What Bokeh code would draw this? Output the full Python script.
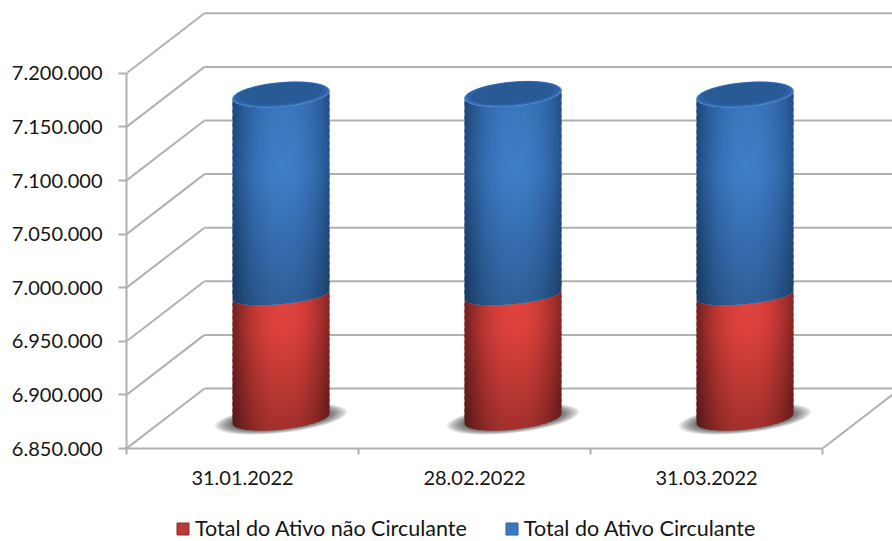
import math
from bokeh.embed import file_html
from bokeh.resources import INLINE
from bokeh.plotting import figure
from bokeh.layouts import column
from bokeh.models import FixedTicker, Legend, LegendItem, Range1d

categories = ["31.01.2022", "28.02.2022", "31.03.2022"]
series_names = ["Total do Ativo não Circulante", "Total do Ativo Circulante"]
ativo_nao_circulante = [6965000, 6965000, 6965000]
ativo_circulante = [187000, 187500, 187000]
y_ticks = [6850000, 6900000, 6950000, 7000000, 7050000, 7100000, 7150000, 7200000]
y_tick_labels = ["6.850.000", "6.900.000", "6.950.000", "7.000.000",
                 "7.050.000", "7.100.000", "7.150.000", "7.200.000"]

W, H1, H2 = 892, 490, 51
LEFT, BOTTOM_PAGE, TOP_PAGE, RIGHT_PAGE = 126.0, 448.0, 0.0, 892.0
XPX = 1 / 232.0
YPX = 50000 / 53.6
DX, DY = 78 * XPX, 60 * YPX

p = figure(width=W, height=H1, output_backend="svg", toolbar_location=None,
           x_range=Range1d(0, (RIGHT_PAGE - LEFT) * XPX),
           y_range=Range1d(y_ticks[0], y_ticks[0] + (BOTTOM_PAGE - TOP_PAGE) * YPX),
           min_border_left=int(LEFT), min_border_right=0, min_border_top=0,
           min_border_bottom=int(H1 - BOTTOM_PAGE), outline_line_color=None,
           background_fill_color="white", border_fill_color="white")
p.grid.visible = False

GRID = "#b0b0b0"
FONT = "Lato"
TXT = "#141414"

# y axis
ya = p.yaxis[0]
ya.ticker = FixedTicker(ticks=y_ticks)
ya.major_label_overrides = {t: l for t, l in zip(y_ticks, y_tick_labels)}
ya.bounds = (y_ticks[0], y_ticks[-1])
ya.axis_line_color = GRID
ya.axis_line_width = 2
ya.major_tick_line_color = GRID
ya.major_tick_line_width = 2
ya.major_tick_out = 8
ya.major_tick_in = 0
ya.minor_tick_line_color = None
ya.major_label_text_font = FONT
ya.major_label_text_font_size = "20px"
ya.major_label_text_color = TXT
ya.major_label_standoff = 16

# x axis
xa = p.xaxis[0]
centers = [i + 0.5 for i in range(len(categories))]
xa.ticker = FixedTicker(ticks=centers, minor_ticks=list(range(len(categories) + 1)))
xa.major_label_overrides = {c: l for c, l in zip(centers, categories)}
xa.bounds = (0, len(categories))
xa.axis_line_color = GRID
xa.axis_line_width = 2
xa.major_tick_line_color = None
xa.major_tick_out = 0
xa.major_tick_in = 0
xa.minor_tick_line_color = GRID
xa.minor_tick_line_width = 2
xa.minor_tick_out = 6
xa.minor_tick_in = 0
xa.major_label_text_font = FONT
xa.major_label_text_font_size = "20px"
xa.major_label_text_color = TXT
xa.major_label_standoff = 16

# walls: diagonals and back lines
n = len(categories)
p.segment([0] * len(y_ticks), y_ticks, [DX] * len(y_ticks), [t + DY for t in y_ticks],
          line_color=GRID, line_width=2)
p.segment([DX] * len(y_ticks), [t + DY for t in y_ticks], [n + DX] * len(y_ticks),
          [t + DY for t in y_ticks], line_color=GRID, line_width=2)
p.segment([n], [y_ticks[0]], [n + DX], [y_ticks[0] + DY], line_color=GRID, line_width=2)


def lerp(a, b, t):
    return a + (b - a) * t


def rgb(c):
    return "#%02x%02x%02x" % tuple(max(0, min(255, int(round(v)))) for v in c)


def shade(edge, mid, u, factor):
    t = max(0.0, 1 - abs(u - 0.05) ** 2.2)
    return rgb([lerp(edge[k], mid[k], t) * factor for k in range(3)])


def edge_val(v, u, b, s):
    return v + (-b * math.sqrt(max(0, 1 - u * u)) + s * u) * YPX


RED = ((122, 34, 34), (222, 66, 60))
BLUE = ((34, 78, 132), (62, 125, 200))
A = 48.5
NS = 44


def section(xc, v0, v1, b0, s0, b1, s1, pal, prof, nv, out):
    for i in range(NS):
        u0 = -1 + 2 * i / NS
        um = u0 + 1.0 / NS
        u1 = min(1.0, u0 + 3.0 / NS)
        us = [u0 + (u1 - u0) * q / 6 for q in range(7)]
        for j in range(nv):
            t0 = j / nv
            t1 = min(1.0, (j + 1.5) / nv)
            def yy(u, t):
                return lerp(edge_val(v0, u, b0, s0), edge_val(v1, u, b1, s1), t)
            out["x"].append([xc + u * A * XPX for u in us] + [xc + u * A * XPX for u in reversed(us)])
            out["y"].append([yy(u, t0) for u in us] + [yy(u, t1) for u in reversed(us)])
            out["c"].append(shade(pal[0], pal[1], um, prof((2 * j + 1) / (2 * nv))))


def red_prof(t):
    return lerp(0.74, 1.0, min(1, t / 0.8))


def blue_prof(t):
    return lerp(0.76, 1.0, min(1, t / 0.65)) if t < 0.7 else lerp(1.0, 0.95, (t - 0.7) / 0.3)


def ellipse(xc, v, a, b, s, dv=0.0, nn=48):
    xs, ys = [], []
    for k in range(nn):
        th = 2 * math.pi * k / nn
        u = math.cos(th)
        xs.append(xc + a * u * XPX)
        ys.append(v + dv * YPX + (b * math.sin(th) + s * u) * YPX)
    return xs, ys


patches = {"x": [], "y": [], "c": []}
shadow = {"x": [], "y": []}
caps = {"x": [], "y": [], "c": []}
for i in range(n):
    xc = i + 0.5 + DX / 2 - 0.5 * XPX
    base = y_ticks[0] + DY / 2
    mid = ativo_nao_circulante[i] + DY / 2
    top = mid + ativo_circulante[i]
    for k in range(8):
        f = 1.0 - 0.04 * k
        xs, ys = ellipse(xc, base, 66 * f, 14 * f, 7 * f, dv=-0.5)
        shadow["x"].append(xs)
        shadow["y"].append(ys)
    section(xc, base, mid, 11, 5, 9, 4.5, RED, red_prof, 20, patches)
    section(xc, mid, top, 9, 4.5, 12, 4, BLUE, blue_prof, 30, patches)
    for f, col, dv in ((1.0, (60, 122, 196), 0), (0.96, (46, 100, 166), 0.8), (0.86, (40, 90, 150), 1.0)):
        xs, ys = ellipse(xc, top, A * f, 12 * f, 4 * f, dv=dv)
        caps["x"].append(xs)
        caps["y"].append(ys)
        caps["c"].append(rgb(col))

p.patches(shadow["x"], shadow["y"], fill_color="#000000", fill_alpha=0.1, line_color=None)
p.patches(patches["x"], patches["y"], fill_color=patches["c"], line_color=None)
p.patches(caps["x"], caps["y"], fill_color=caps["c"], line_color=caps["c"], line_width=0.5)

# legend strip below the plot
p2 = figure(width=W, height=H2, output_backend="svg", toolbar_location=None,
            x_range=Range1d(0, 1), y_range=Range1d(0, 1),
            x_axis_location=None, y_axis_location=None,
            min_border=0, outline_line_color=None,
            background_fill_color="white", border_fill_color="white")
p2.grid.visible = False
r1 = p2.quad(left=[-5], right=[-4], bottom=[0], top=[1], fill_color="#bb3a38", line_color="#8c2a2a")
r2 = p2.quad(left=[-5], right=[-4], bottom=[0], top=[1], fill_color="#3a78c0", line_color="#2a5a92")
legend = Legend(items=[LegendItem(label=series_names[0], renderers=[r1]),
                       LegendItem(label=series_names[1], renderers=[r2])],
                orientation="horizontal", location=(49, 0), padding=0, margin=0,
                spacing=37, label_standoff=5, glyph_width=15, glyph_height=15,
                border_line_color=None, background_fill_alpha=0,
                label_text_font=FONT, label_text_font_size="21.5px", label_text_color=TXT)
p2.add_layout(legend, "center")

open("out.html", "w").write(file_html(column(p, p2, spacing=0), INLINE))
